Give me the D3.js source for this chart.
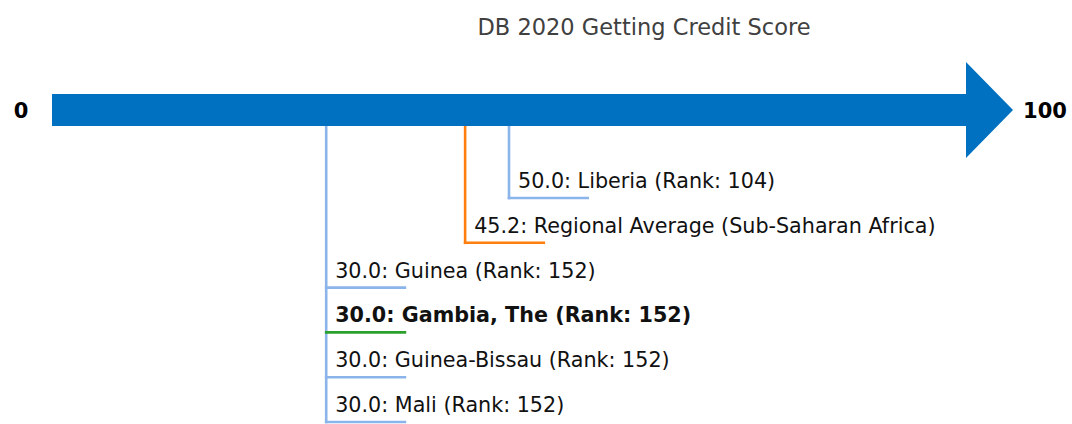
<!DOCTYPE html>
<html>
<head>
<meta charset="utf-8">
<script src="https://cdn.jsdelivr.net/npm/d3@7"></script>
<style>
  html, body { margin: 0; padding: 0; background: #fff; }
  svg { display: block; font-family: "DejaVu Sans", sans-serif; }
</style>
</head>
<body>
<svg id="chart" width="1072" height="424"></svg>
<script>
const title = "DB 2020 Getting Credit Score";
const domainLabels = ["0", "100"];
const entryNames = ["Liberia (Rank: 104)", "Regional Average (Sub-Saharan Africa)", "Guinea (Rank: 152)", "Gambia, The (Rank: 152)", "Guinea-Bissau (Rank: 152)", "Mali (Rank: 152)"];
const entryScores = [50.0, 45.2, 30.0, 30.0, 30.0, 30.0];
const entryKinds = ["peer", "regional", "peer", "focus", "peer", "peer"];

const colors = { peer: "#8ab4ea", regional: "#ff7f0e", focus: "#2ca02c" };

const svg = d3.select("#chart");
const x = d3.scaleLinear().domain([0, 100]).range([52, 966]);

// title
svg.append("text")
  .attr("x", 644).attr("y", 35)
  .attr("text-anchor", "middle")
  .attr("font-size", 22.5)
  .attr("fill", "#404040")
  .text(title);

// arrow
const bodyTop = 94, bodyBot = 126, headTop = 62, headBot = 158, tipX = 1013;
const midY = (bodyTop + bodyBot) / 2;
svg.append("path")
  .attr("d", `M${x(0)},${bodyTop} L${x(100)},${bodyTop} L${x(100)},${headTop} L${tipX},${midY} L${x(100)},${headBot} L${x(100)},${bodyBot} L${x(0)},${bodyBot} Z`)
  .attr("fill", "#0070c0");

svg.append("text").attr("x", 21).attr("y", midY + 8)
  .attr("text-anchor", "middle").attr("font-size", 21).attr("font-weight", "bold")
  .text(domainLabels[0]);
svg.append("text").attr("x", 1045).attr("y", midY + 8)
  .attr("text-anchor", "middle").attr("font-size", 21).attr("font-weight", "bold")
  .text(domainLabels[1]);

const rowStart = 198, rowStep = 44.8, hLen = 80;
const entries = entryNames.map((n, i) => ({ name: n, score: entryScores[i], kind: entryKinds[i], y: rowStart + i * rowStep }));

// vertical lines: one per distinct score down to lowest row
const groups = d3.groups(entries, d => d.score);
groups.forEach(([score, arr]) => {
  const maxY = d3.max(arr, d => d.y);
  const kind = arr.some(d => d.kind === "regional") ? "regional" : "peer";
  svg.append("line")
    .attr("x1", x(score)).attr("x2", x(score))
    .attr("y1", bodyBot).attr("y2", maxY + 1.3)
    .attr("stroke", colors[kind]).attr("stroke-width", 2.6);
});

entries.forEach(d => {
  svg.append("line")
    .attr("x1", x(d.score) - 1.3).attr("x2", x(d.score) + hLen)
    .attr("y1", d.y).attr("y2", d.y)
    .attr("stroke", colors[d.kind]).attr("stroke-width", 2.6);
  svg.append("text")
    .attr("x", x(d.score) + 9).attr("y", d.y - 10)
    .attr("font-size", 20.7)
    .attr("font-weight", d.kind === "focus" ? "bold" : "normal")
    .attr("fill", "#111")
    .text(`${d.score.toFixed(1)}: ${d.name}`);
});
</script>
</body>
</html>
